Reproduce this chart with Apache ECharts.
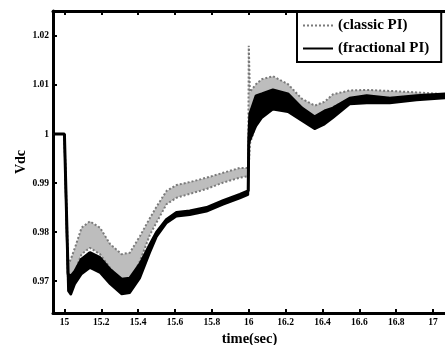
<!DOCTYPE html>
<html>
<head>
<meta charset="utf-8">
<script src="https://cdn.jsdelivr.net/npm/echarts@6/dist/echarts.min.js"></script>
<style>
html,body{margin:0;padding:0;background:#fff;}
#c{width:445px;height:345px;}
</style>
</head>
<body>
<div id="c"></div>
<script>
// time samples (sec)
var time = [14.94, 15.0, 15.02, 15.035, 15.057, 15.093, 15.138, 15.193, 15.247, 15.31, 15.355, 15.41, 15.464, 15.5, 15.554, 15.608, 15.68, 15.771, 15.861, 15.952, 15.997, 16.0, 16.006, 16.04, 16.071, 16.131, 16.212, 16.288, 16.358, 16.412, 16.457, 16.548, 16.64, 16.765, 16.91, 17.07];
// classic PI band (upper / lower envelope of the ripple)
var classicHi = [1.0, 1.0, 0.9735, 0.9745, 0.9768, 0.9809, 0.9822, 0.9809, 0.9776, 0.9755, 0.9758, 0.9792, 0.9829, 0.9852, 0.9884, 0.9896, 0.9902, 0.9911, 0.9921, 0.9931, 0.9931, 1.018, 1.0086, 1.0102, 1.0112, 1.0118, 1.0102, 1.0072, 1.0058, 1.0066, 1.0081, 1.0089, 1.009, 1.0088, 1.0085, 1.0081];
var classicLo = [1.0, 1.0, 0.969, 0.9695, 0.972, 0.9755, 0.9768, 0.9755, 0.9727, 0.970, 0.970, 0.9741, 0.9795, 0.982, 0.9857, 0.987, 0.9878, 0.9888, 0.9901, 0.9911, 0.9914, 0.9914, 0.998, 1.002, 1.004, 1.0068, 1.006, 1.0042, 1.0028, 1.0035, 1.0055, 1.0072, 1.0076, 1.0074, 1.0073, 1.0075];
// fractional PI band (upper / lower envelope)
var fracHi = [1.0, 1.0, 0.9714, 0.971, 0.972, 0.9745, 0.9758, 0.9748, 0.9724, 0.9704, 0.9706, 0.9735, 0.9775, 0.980, 0.9826, 0.984, 0.9843, 0.985, 0.9864, 0.9877, 0.9884, 0.999, 1.0041, 1.0078, 1.0082, 1.009, 1.0082, 1.0053, 1.0035, 1.0047, 1.0053, 1.0073, 1.0078, 1.0073, 1.0078, 1.0082];
var fracLo = [1.0, 1.0, 0.968, 0.9672, 0.9694, 0.9714, 0.9727, 0.9717, 0.9694, 0.9673, 0.9676, 0.9706, 0.9758, 0.979, 0.9818, 0.9832, 0.9835, 0.9842, 0.9856, 0.9869, 0.9876, 0.998, 0.9986, 1.0016, 1.0033, 1.005, 1.0045, 1.0027, 1.001, 1.002, 1.0033, 1.0061, 1.0063, 1.0063, 1.0069, 1.0073];
var xTicks = [15, 15.2, 15.4, 15.6, 15.8, 16, 16.2, 16.4, 16.6, 16.8, 17];
var yTicks = [0.97, 0.98, 0.99, 1.0, 1.01, 1.02];
var seriesNames = ['(classic PI)', '(fractional PI)'];

function pairs(a){ return time.map(function(t,i){ return [t, a[i]]; }); }
function bandData(hi, lo){ return time.map(function(t,i){ return [t, hi[i], lo[i]]; }); }
function bandRender(fill){
  return function(params, api){
    if (params.dataIndex !== 0) return;
    var n = time.length, pts = [], i;
    for (i = 0; i < n; i++) pts.push(api.coord([api.value(0, i), api.value(1, i)]));
    for (i = n - 1; i >= 0; i--) pts.push(api.coord([api.value(0, i), api.value(2, i)]));
    return {type:'polygon', shape:{points:pts}, style:{fill:fill, stroke:null}};
  };
}

var FONT = 'Liberation Serif';
var chart = echarts.init(document.getElementById('c'), null, {renderer:'canvas'});
var grayLine = {color:'#7a7a7a', width:2, type:[2,2]};
chart.setOption({
  backgroundColor:'#fff',
  animation:false,
  grid:{left:53, top:11, width:393, height:302, outerBoundsMode:'none', containLabel:false},
  legend:{
    data:seriesNames,
    orient:'vertical',
    left:297, top:12,
    backgroundColor:'#fff',
    borderColor:'#000', borderWidth:2, borderRadius:0,
    padding:[6,12,6,5],
    itemWidth:30, itemHeight:14, itemGap:8,
    itemStyle:{opacity:0},
    textStyle:{fontFamily:FONT, fontWeight:'bold', fontSize:15, color:'#000'}
  },
  xAxis:[{
    type:'value', min:14.938, max:17.07,
    name:'time(sec)', nameLocation:'middle', nameGap:19, nameMoveOverlap:false,
    nameTextStyle:{fontFamily:FONT, fontWeight:'bold', fontSize:14.5, color:'#000'},
    axisLine:{onZero:false, lineStyle:{color:'#000', width:3}},
    axisTick:{inside:true, length:4, lineStyle:{width:2, color:'#000'}, customValues:xTicks},
    axisLabel:{fontFamily:FONT, fontWeight:'bold', fontSize:9.5, color:'#000', margin:5, customValues:xTicks,
      formatter:function(v){ return String(+v.toFixed(1)); }},
    splitLine:{show:false}
  },{
    type:'value', position:'top', min:14.938, max:17.07,
    axisLine:{onZero:false, lineStyle:{color:'#000', width:3}},
    axisTick:{inside:true, length:4, lineStyle:{width:2, color:'#000'}, customValues:xTicks},
    axisLabel:{show:false},
    splitLine:{show:false}
  }],
  yAxis:[{
    type:'value', min:0.9635, max:1.0251,
    name:'Vdc', nameLocation:'middle', nameGap:25, nameRotate:90, nameMoveOverlap:false,
    nameTextStyle:{fontFamily:FONT, fontWeight:'bold', fontSize:14, color:'#000'},
    axisLine:{onZero:false, lineStyle:{color:'#000', width:3}},
    axisTick:{inside:true, length:4, lineStyle:{width:2, color:'#000'}, customValues:yTicks},
    axisLabel:{fontFamily:FONT, fontWeight:'bold', fontSize:9.5, color:'#000', margin:4, customValues:yTicks,
      formatter:function(v){ return String(+v.toFixed(2)); }},
    splitLine:{show:false}
  }],
  series:[
    {name:'cBand', type:'custom', data:bandData(classicHi, classicLo), encode:{x:0, y:[1,2]}, renderItem:bandRender('#bdbdbd'), z:1, silent:true},
    {name:'cLo', type:'line', data:pairs(classicLo), symbol:'none', lineStyle:grayLine, z:2},
    {name:seriesNames[0], type:'line', data:pairs(classicHi), symbol:'none', lineStyle:grayLine, itemStyle:{color:'#7a7a7a'}, z:2},
    {name:'fBand', type:'custom', data:bandData(fracHi, fracLo), encode:{x:0, y:[1,2]}, renderItem:bandRender('#000'), z:3, silent:true},
    {name:'fLo', type:'line', data:pairs(fracLo), symbol:'none', lineStyle:{color:'#000', width:2}, z:4},
    {name:seriesNames[1], type:'line', data:pairs(fracHi), symbol:'none', lineStyle:{color:'#000', width:3}, itemStyle:{color:'#000'}, z:4}
  ]
});
</script>
</body>
</html>
